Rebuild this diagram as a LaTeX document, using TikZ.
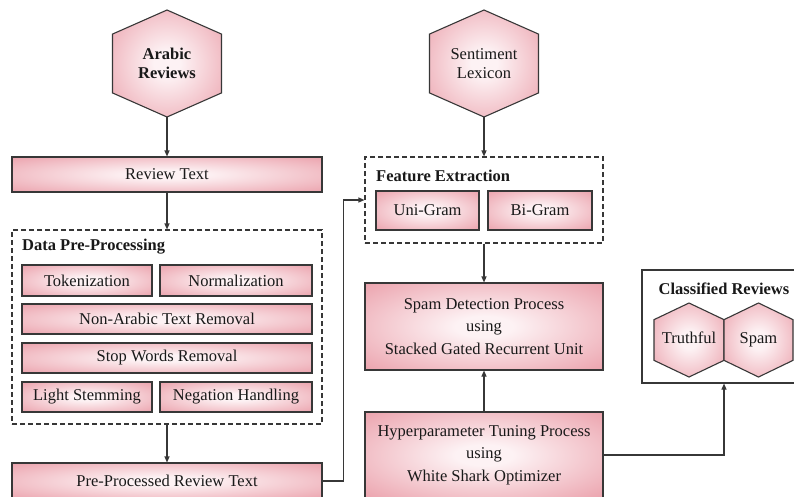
\documentclass[tikz,border=0pt]{standalone}
\usepackage{fontspec}
\setmainfont{Liberation Serif}
\usetikzlibrary{arrows.meta}
\definecolor{pk}{RGB}{232,148,160}
\definecolor{pkin}{RGB}{253,242,244}
\definecolor{ln}{RGB}{55,55,55}
\pgfdeclareradialshading{pinkrad}{\pgfpoint{0bp}{0bp}}{color(0bp)=(pkin); color(6bp)=(pkin); color(41bp)=(pk); color(75bp)=(pk)}
\newcommand\hexpath[4]{% cx, cy, half width, half height
  (#1,#2-#4) -- (#1+#3,#2-0.55*#4) -- (#1+#3,#2+0.55*#4) -- (#1,#2+#4) -- (#1-#3,#2+0.55*#4) -- (#1-#3,#2-0.55*#4) -- cycle}
\begin{document}
\begin{tikzpicture}[x=1pt,y=-1pt,
  font=\fontsize{16.5}{22.5}\selectfont,
  pbox/.style={draw=ln, line width=1.1pt, shading=pinkrad, inner sep=0pt, align=center, text=black!90},
  dbox/.style={draw=ln, line width=1.1pt, dash pattern=on 5pt off 3pt, fill=white, inner sep=0pt},
  sbox/.style={draw=ln, line width=1.1pt, fill=white, inner sep=0pt},
  hexs/.style={draw=ln, line width=1.1pt, shading=pinkrad},
  htext/.style={inner sep=0pt, align=center, text=black!90, font=\fontsize{16.5}{19.5}\selectfont},
  ttl/.style={inner sep=0pt, font=\fontsize{16.5}{19.5}\selectfont\bfseries, text=black!90},
  arr/.style={draw=ln, line width=1.1pt, -{Triangle[length=6pt,width=5pt]}}
]
\useasboundingbox (0,0) rectangle (794,496);
\clip (0,0) rectangle (794,496);

% hexagons
\path[hexs] \hexpath{167}{63.5}{54.5}{53.5};
\node[htext, minimum width=109pt, minimum height=107pt, font=\fontsize{16.5}{19.5}\selectfont\bfseries] (arab) at (167,63.5) {Arabic\\Reviews};
\path[hexs] \hexpath{484}{63.5}{54.5}{53.5};
\node[htext, minimum width=109pt, minimum height=107pt] (lex) at (484,63.5) {Sentiment\\Lexicon};

% left column
\node[pbox, minimum width=310pt, minimum height=35pt] (rt) at (167,174.5) {Review Text};
\node[dbox, minimum width=310pt, minimum height=194pt] (dpp) at (167,327) {};
\node[ttl, anchor=west] (dppt) at (22,247) {Data Pre-Processing};
\node[pbox, minimum width=130pt, minimum height=31pt] (tok) at (87,280.5) {Tokenization};
\node[pbox, minimum width=152pt, minimum height=31pt] (norm) at (236,280.5) {Normalization};
\node[pbox, minimum width=290pt, minimum height=30pt] (nonar) at (167,319) {Non-Arabic Text Removal};
\node[pbox, minimum width=290pt, minimum height=30pt] (stop) at (167,358) {Stop Words Removal};
\node[pbox, minimum width=130pt, minimum height=30pt] (light) at (87,397) {Light Stemming};
\node[pbox, minimum width=152pt, minimum height=30pt] (neg) at (236,397) {Negation Handling};
\node[pbox, minimum width=310pt, minimum height=36pt] (pre) at (167,481) {Pre-Processed Review Text};

% middle column
\node[dbox, minimum width=238pt, minimum height=86pt] (feat) at (484,200) {};
\node[ttl, anchor=west] (featt) at (376,176) {Feature Extraction};
\node[pbox, minimum width=103pt, minimum height=39pt] (uni) at (427.5,210.5) {Uni-Gram};
\node[pbox, minimum width=104pt, minimum height=39pt] (bi) at (540,210.5) {Bi-Gram};
\node[pbox, minimum width=238pt, minimum height=87pt] (spam) at (484,326.5) {Spam Detection Process\\using\\Stacked Gated Recurrent Unit};
\node[pbox, minimum width=238pt, minimum height=86pt] (hyp) at (484,455) {Hyperparameter Tuning Process\\using\\White Shark Optimizer};

% classified reviews
\node[sbox, minimum width=164pt, minimum height=113pt] (cls) at (724,326.5) {};
\node[ttl] (clst) at (724,289) {Classified Reviews};
\path[hexs] \hexpath{689}{340}{35}{37};
\node[htext, minimum width=70pt, minimum height=74pt] (truth) at (689,340) {\strut Truthful};
\path[hexs] \hexpath{758.5}{340}{34.5}{37};
\node[htext, minimum width=69pt, minimum height=74pt] (spm) at (758.5,340) {\strut Spam};

% connectors
\draw[arr] (arab.south) -- (rt.north);
\draw[arr] (rt.south) -- (dpp.north);
\draw[arr] (dpp.south) -- (pre.north);
\draw[arr] (pre.east) -- ++(21,0) |- (feat.west);
\draw[arr] (lex.south) -- (feat.north);
\draw[arr] (feat.south) -- (spam.north);
\draw[arr] (hyp.north) -- (spam.south);
\draw[arr] (hyp.east) -| (cls.south);
\end{tikzpicture}
\end{document}
